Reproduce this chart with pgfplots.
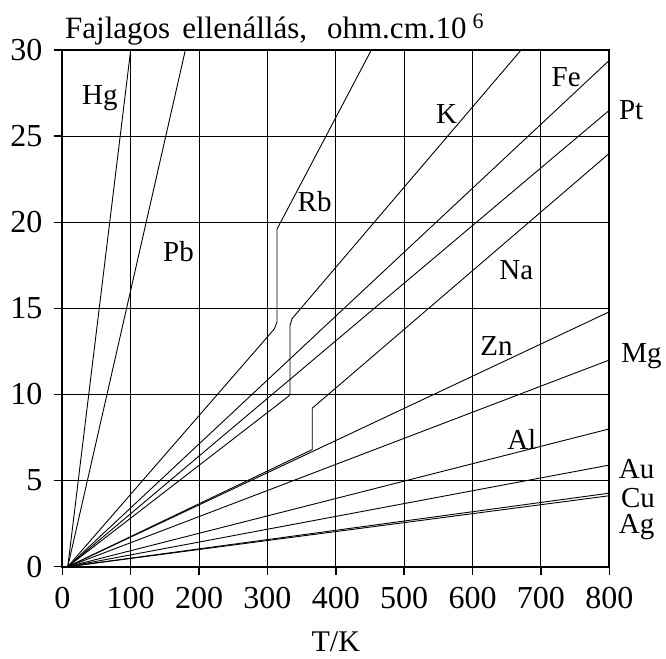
\documentclass[border=0pt]{standalone}
\usepackage{pgfplots}
\pgfplotsset{compat=1.18}
\usepackage{fontspec}
\setmainfont{Liberation Serif}
\tikzset{lbl/.style={font=\fontsize{29}{29}\selectfont, inner sep=0pt}}

\begin{document}
\begin{tikzpicture}
\useasboundingbox (-62.3pt,-91.3pt) rectangle (603.7pt,566.7pt);
\begin{axis}[
  at={(0pt,0pt)}, anchor=south west,
  scale only axis, width=547pt, height=516.7pt,
  xmin=0, xmax=800, ymin=0, ymax=30,
  xtick={0,100,...,800}, ytick={0,5,...,30},
  xtick pos=bottom, ytick pos=left,
  grid=major, major grid style={black, line width=1.1pt},
  axis line style={line width=1.8pt},
  tick align=outside, major tick length=8pt,
  tick style={black, line width=1.4pt},
  ticklabel style={font=\fontsize{32}{32}\selectfont},
  xticklabel style={yshift=-9pt},
  yticklabel style={xshift=-8.5pt},
  /pgf/number format/assume math mode=true,
  clip=false,
  every axis plot post/.append style={black, solid, line width=0.9pt, mark=none},
]
% Hg, Pb
\addplot coordinates {(8,0) (100,30)};
\addplot coordinates {(8,0) (180,30)};
% Rb
\addplot coordinates {(8,0) (310,13.8) (314,14.2) (314,19.6) (452,30)};
% K
\addplot coordinates {(8,0) (331,9.9) (333,10.0) (333,14.0) (336,14.4) (671,30)};
% Fe, Pt
\addplot coordinates {(8,0) (800,29.4)};
\addplot coordinates {(8,0) (800,26.5)};
% Na
\addplot coordinates {(8,0) (365.5,6.8) (365.5,9.2) (800,24.0)};
% Zn, Mg, Al, Au, Cu, Ag
\addplot coordinates {(8,0) (800,14.8)};
\addplot coordinates {(8,0) (800,12.0)};
\addplot coordinates {(8,0) (800,8.0)};
\addplot coordinates {(8,0) (800,5.9)};
\addplot coordinates {(8,0) (800,4.27)};
\addplot coordinates {(8,0) (800,4.12)};

\node[lbl] at (axis cs:55,27.2) {Hg};
\node[lbl] at (axis cs:170,18.3) {Pb};
\node[lbl] at (axis cs:369,21.2) {Rb};
\node[lbl] at (axis cs:562,26.3) {K};
\node[lbl] at (axis cs:737,28.4) {Fe};
\node[lbl] at (axis cs:832,26.5) {Pt};
\node[lbl] at (axis cs:664,17.2) {Na};
\node[lbl] at (axis cs:635,12.8) {Zn};
\node[lbl] at (axis cs:847,12.2) {Mg};
\node[lbl] at (axis cs:672,7.36) {Al};
\node[lbl] at (axis cs:840,5.65) {Au};
\node[lbl] at (axis cs:842,4.0) {Cu};
\node[lbl] at (axis cs:840,2.3) {Ag};

\node[lbl, font=\fontsize{31}{31}\selectfont, anchor=base west] at (axis cs:4,30) [yshift=11.7pt]
  {Fajlagos\hspace{12pt}ellenállás,\hspace{20pt}ohm.cm.10\hspace{6pt}\raisebox{10pt}{\fontsize{22}{22}\selectfont 6}};
\node[lbl, font=\fontsize{30}{30}\selectfont, anchor=base] at (axis cs:400,0) [yshift=-84.5pt] {T/K};
\end{axis}
\end{tikzpicture}
\end{document}
